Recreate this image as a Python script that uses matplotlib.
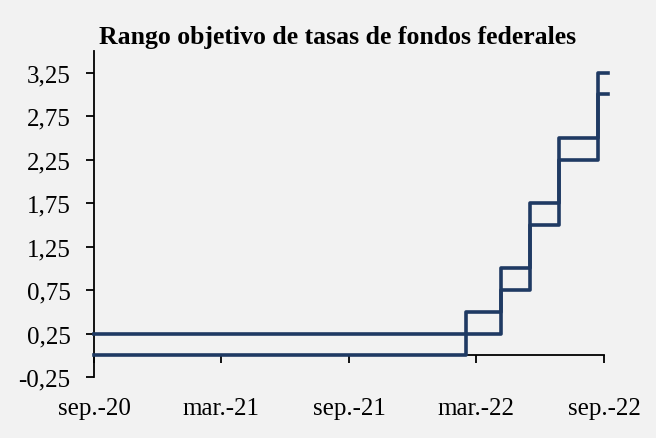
import matplotlib
matplotlib.use("Agg")
import matplotlib.pyplot as plt
import numpy as np
import pandas as pd

# fed funds target range, step dates
dates = pd.to_datetime(["2020-09-30", "2022-03-17", "2022-05-05", "2022-06-16",
                        "2022-07-28", "2022-09-22", "2022-10-06"])
lower = [0.00, 0.25, 0.75, 1.50, 2.25, 3.00, 3.00]
upper = [0.25, 0.50, 1.00, 1.75, 2.50, 3.25, 3.25]

tick_dates = pd.to_datetime(["2020-09-30", "2021-03-31", "2021-09-30",
                             "2022-03-31", "2022-09-30"])
tick_labels = ["sep.-20", "mar.-21", "sep.-21", "mar.-22", "sep.-22"]
y_ticks = [-0.25, 0.25, 0.75, 1.25, 1.75, 2.25, 2.75, 3.25]

plt.rcParams["font.family"] = ["Liberation Serif", "DejaVu Serif"]
bg = "#f2f2f2"
navy = "#1f3a63"

fig = plt.figure(figsize=(6.56, 4.39), dpi=100, facecolor=bg)
ax = fig.add_axes([94 / 656, 1 - 378 / 439, 510 / 656, 326 / 439], facecolor=bg)

ax.plot(dates, upper, drawstyle="steps-post", color=navy, lw=2.6, clip_on=False, zorder=5)
ax.plot(dates, lower, drawstyle="steps-post", color=navy, lw=2.6, clip_on=False, zorder=5)

ax.set_xlim(tick_dates[0], tick_dates[-1])
ax.set_ylim(-0.25, 3.5)

ax.spines["top"].set_visible(False)
ax.spines["right"].set_visible(False)
ax.spines["bottom"].set_position(("data", 0))
for s in ("left", "bottom"):
    ax.spines[s].set_linewidth(1.3)

ax.set_xticks(tick_dates)
ax.set_xticklabels(tick_labels)
ax.set_yticks(y_ticks)
ax.set_yticklabels([f"{v:.2f}".replace(".", ",") for v in y_ticks])
ax.tick_params(axis="x", direction="out", length=6, width=1.3, pad=24, labelsize=18)
ax.tick_params(axis="y", direction="out", length=6, width=1.3, pad=11, labelsize=18)

fig.text(338 / 656, 1 - 44 / 439, "Rango objetivo de tasas de fondos federales",
         ha="center", va="baseline", fontsize=18.5, fontweight="bold")

fig.savefig("out.png", dpi=100, facecolor=bg)
